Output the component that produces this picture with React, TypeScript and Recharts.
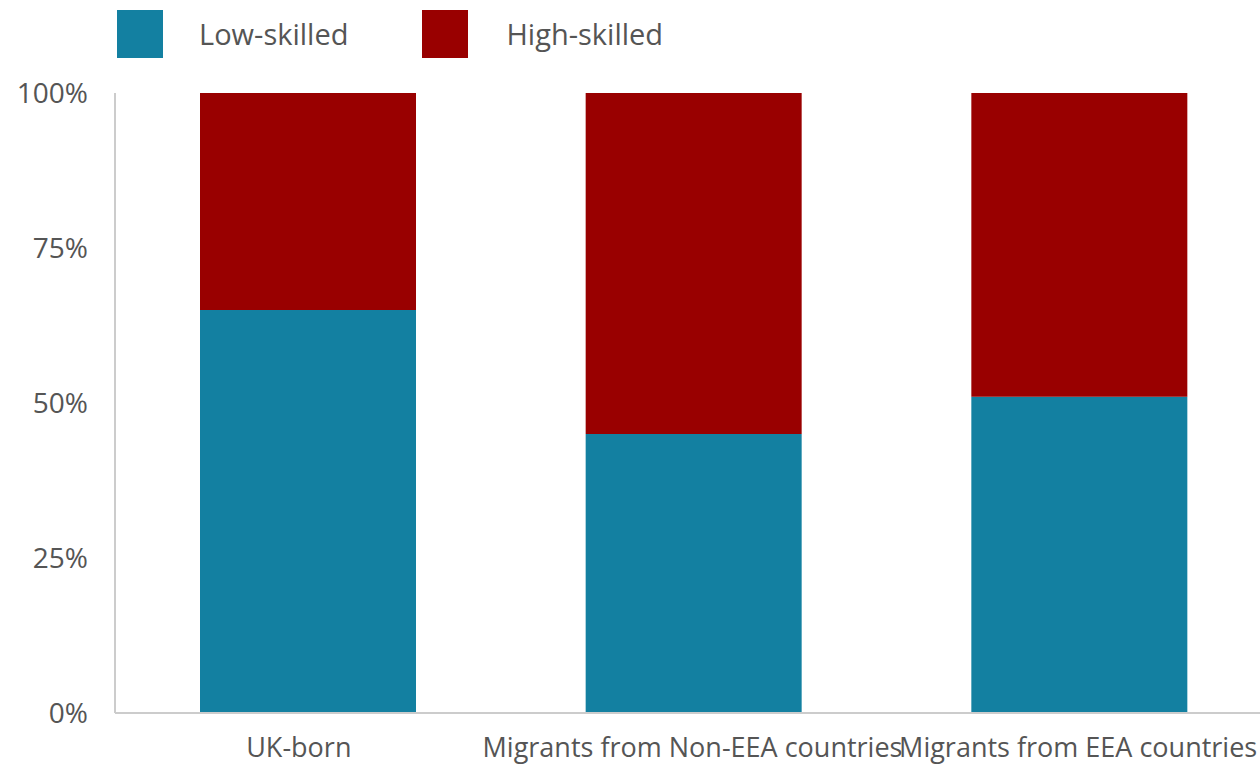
import { BarChart, Bar, XAxis, YAxis } from 'recharts'

const categories = ['UK-born', 'Migrants from Non-EEA countries', 'Migrants from EEA countries']
const lowSkilled = [65, 45, 51]
const highSkilled = [35, 55, 49]
const yTicks = [0, 25, 50, 75, 100]

const BLUE = '#1380a1'
const RED = '#990000'
const TEXT = '#555555'
const FONT = '"Open Sans", "Noto Sans", sans-serif'

const data = categories.map((name, i) => ({
  name,
  low: lowSkilled[i],
  high: highSkilled[i],
}))

const legendItems = [
  { label: 'Low-skilled', color: BLUE },
  { label: 'High-skilled', color: RED },
]

// the first label sits a little left of its bar in the original
function CategoryTick(props: any) {
  const { x, y, payload, index } = props
  const shift = index === 0 ? -9 : -1
  return (
    <text
      x={x + shift}
      y={y}
      dy="0.71em"
      textAnchor="middle"
      fill={TEXT}
      fontSize={27}
      fontFamily={FONT}
    >
      {payload.value}
    </text>
  )
}

export default function App() {
  return (
    <div style={{ position: 'absolute', left: 0, top: 0, width: 1260, height: 766, background: '#fff', fontFamily: FONT, overflow: 'hidden' }}>
      <div style={{ position: 'absolute', left: 117, top: 10, display: 'flex', alignItems: 'center', zIndex: 2 }}>
        {legendItems.map((item, i) => (
          <div key={item.label} style={{ display: 'flex', alignItems: 'center', marginRight: i === 0 ? 74 : 0 }}>
            <div style={{ width: 46, height: 48, background: item.color }} />
            <span style={{ marginLeft: i === 0 ? 36 : 38, fontSize: 29, color: TEXT, lineHeight: '48px' }}>{item.label}</span>
          </div>
        ))}
      </div>
      <BarChart
        width={1260}
        height={766}
        data={data}
        margin={{ top: 93, right: -12, left: 0, bottom: 0 }}
      >
        <XAxis
          dataKey="name"
          height={53}
          interval={0}
          tickLine={false}
          tickSize={0}
          tickMargin={25}
          axisLine={{ stroke: '#cccccc', strokeWidth: 2 }}
          tick={<CategoryTick />}
        />
        <YAxis
          width={115}
          domain={[0, 100]}
          ticks={yTicks}
          tickFormatter={(v: number) => `${v}%`}
          tickLine={false}
          tickSize={6}
          tickMargin={21}
          axisLine={{ stroke: '#cccccc', strokeWidth: 2 }}
          tick={{ fill: TEXT, fontSize: 28, fontFamily: FONT }}
        />
        <Bar dataKey="low" stackId="a" barSize={216} fill={BLUE} isAnimationActive={false} />
        <Bar dataKey="high" stackId="a" barSize={216} fill={RED} isAnimationActive={false} />
      </BarChart>
    </div>
  )
}
